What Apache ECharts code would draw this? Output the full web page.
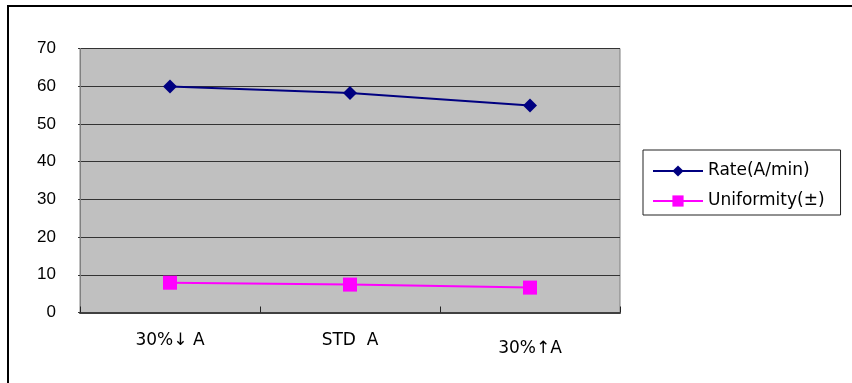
<!DOCTYPE html>
<html>
<head>
<meta charset="utf-8">
<script src="https://cdn.jsdelivr.net/npm/echarts@6/dist/echarts.min.js"></script>
<style>
  html, body { margin: 0; padding: 0; background: #fff; }
  #chart { width: 852px; height: 383px; }
</style>
</head>
<body>
<div id="chart"></div>
<script>
// Etch conditions along the x axis
const categories = ['30%↓ A', 'STD  A', '30%↑A'];
// Etch rate and uniformity measured for each condition
const rateValues = [59.9, 58.2, 54.9];
const uniformityValues = [7.9, 7.4, 6.6];
// Value axis ticks
const yMin = 0, yMax = 70, yStep = 10;

const chart = echarts.init(document.getElementById('chart'), null, { renderer: 'canvas' });
const font = '"Liberation Sans", Arial, sans-serif';
const wideFont = '"DejaVu Sans", "Liberation Sans", sans-serif';

chart.setOption({
  animation: false,
  backgroundColor: '#fff',
  graphic: [{
    type: 'rect',
    shape: { x: 8, y: 6, width: 1000, height: 1000 },
    style: { fill: 'none', stroke: '#000', lineWidth: 2 },
    silent: true
  }],
  grid: {
    left: 80, top: 48.5, right: 232, bottom: 70.5,
    show: true,
    backgroundColor: '#c0c0c0',
    borderColor: '#808080',
    borderWidth: 1
  },
  legend: {
    orient: 'vertical',
    left: 643, top: 150,
    itemWidth: 50, itemHeight: 14, itemGap: 12,
    padding: [12, 16, 5, 9],
    borderColor: '#222',
    borderWidth: 1,
    backgroundColor: '#fff',
    textStyle: { fontFamily: wideFont, fontSize: 17, color: '#000', lineHeight: 18 },
    data: ['Rate(A/min)', 'Uniformity(±)']
  },
  xAxis: {
    type: 'category',
    data: categories,
    boundaryGap: true,
    axisLine: { show: true, lineStyle: { color: '#404040', width: 2 } },
    axisTick: { show: true, inside: true, length: 6, lineStyle: { color: '#222' } },
    axisLabel: {
      margin: 20,
      fontFamily: wideFont,
      fontSize: 17,
      color: '#000',
      formatter: function (v, i) { return i === 2 ? '{low|' + v + '}' : v; },
      rich: { low: { fontFamily: wideFont, fontSize: 17, color: '#000', padding: [8, 0, 0, 0] } }
    },
    splitLine: { show: false }
  },
  yAxis: {
    type: 'value',
    min: yMin, max: yMax, interval: yStep,
    axisLine: { show: true, lineStyle: { color: '#808080', width: 1 } },
    axisTick: { show: true, inside: false, length: 2, lineStyle: { color: '#333' } },
    axisLabel: { margin: 24, fontFamily: font, fontSize: 17, color: '#000' },
    splitLine: { show: true, lineStyle: { color: '#333', width: 1 } }
  },
  series: [
    {
      name: 'Rate(A/min)',
      type: 'line',
      data: rateValues,
      symbol: 'diamond',
      symbolSize: 14,
      lineStyle: { color: '#000080', width: 2 },
      itemStyle: { color: '#000080' }
    },
    {
      name: 'Uniformity(±)',
      type: 'line',
      data: uniformityValues,
      symbol: 'rect',
      symbolSize: 14,
      lineStyle: { color: '#ff00ff', width: 2 },
      itemStyle: { color: '#ff00ff' }
    }
  ]
});
</script>
</body>
</html>
